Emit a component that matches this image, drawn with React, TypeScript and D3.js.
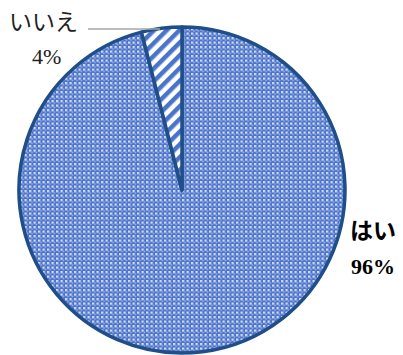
import React from "react";
import * as d3 from "d3";

const categories = ["はい", "いいえ"];
const values = [96, 4];
const valueLabels = ["96%", "4%"];

export default function App() {
  const width = 403, height = 355;
  const cx = 182, cy = 190, r = 163;
  const pie = d3.pie<number>().sort(null).value((d) => d)
    .startAngle(0).endAngle(2 * Math.PI);
  const arcs = pie(values);
  const arc = d3.arc<d3.PieArcDatum<number>>().innerRadius(0).outerRadius(r);
  const fills = ["url(#check)", "url(#stripe)"];
  return (
    <svg width={width} height={height} style={{ position: "absolute", left: 0, top: 0 }}>
      <defs>
        <pattern id="check" width="4.5" height="4.5" patternUnits="userSpaceOnUse">
          <rect width="4.5" height="4.5" fill="#4a70c8" />
          <rect x="0" y="0" width="2.3" height="2.3" fill="#d0ddf6" />
          <rect x="2.25" y="2.25" width="1.6" height="1.6" fill="#9fb7ec" />
        </pattern>
        <pattern id="stripe" width="9" height="9" patternUnits="userSpaceOnUse" patternTransform="rotate(45)">
          <rect width="9" height="9" fill="#ffffff" />
          <rect width="4.5" height="9" fill="#4a74c9" />
        </pattern>
      </defs>
      <g transform={`translate(${cx},${cy})`}>
        {arcs.map((a, i) => (
          <path key={categories[i]} d={arc(a) || ""} fill={fills[i]} stroke="#1f4e89" strokeWidth={3.5} strokeLinejoin="round" />
        ))}
      </g>
      <line x1={88} y1={29} x2={160} y2={29} stroke="#a6a6a6" strokeWidth={1.5} />
      <text x={9} y={30} fontFamily="Noto Sans CJK JP" fontSize={23} fill="#222">{categories[1]}</text>
      <text x={32} y={64} fontFamily="Liberation Serif" fontSize={22} fill="#222">{valueLabels[1]}</text>
      <text x={350} y={239} fontFamily="Noto Sans CJK JP" fontWeight="bold" fontSize={23} fill="#000">{categories[0]}</text>
      <text x={351} y={274} fontFamily="Liberation Serif" fontWeight="bold" fontSize={22} fill="#000">{valueLabels[0]}</text>
    </svg>
  );
}
